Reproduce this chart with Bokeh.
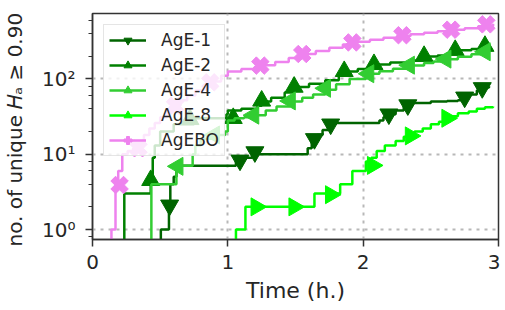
import numpy as np
from bokeh.plotting import figure
from bokeh.models import Range1d, FixedTicker, LogTicker, CustomJSTickFormatter, ColumnDataSource
from bokeh.embed import file_html
from bokeh.resources import INLINE

# ---- data (time in hours, cumulative count) ----
age1_t = [0, 0.505, 0.565, 0.575, 0.60, 0.62, 1.06, 1.12, 1.18, 1.59, 1.62, 1.66, 1.70, 1.74, 1.78, 2.12, 2.15, 2.18, 2.24, 2.30, 2.36, 2.50, 2.62, 2.70, 2.74, 2.78, 2.84, 2.88, 2.93]
age1_n = [0, 1, 2, 4, 5, 7, 8, 9, 10, 12, 15, 18, 21, 24, 26, 28, 31, 34, 38, 43, 48, 50, 51, 52, 56, 62, 70, 77, 80]
age1_mt = [0.57, 1.09, 1.20, 1.64, 1.76, 2.19, 2.33, 2.75, 2.88]
age1_mn = [2.1, 8.3, 10.7, 16, 25, 34, 45, 57, 76]

age2_t = [0, 0.235, 0.43, 0.445, 0.46, 0.50, 0.60, 0.75, 0.99, 1.00, 1.10, 1.22, 1.25, 1.32, 1.42, 1.49, 1.60, 1.72, 1.82, 1.86, 1.96, 2.07, 2.20, 2.35, 2.44, 2.55, 2.62, 2.69, 2.80, 2.88, 2.90, 2.93]
age2_n = [0, 3, 4, 9, 13, 20, 25, 30, 34, 38, 40, 44, 50, 56, 66, 78, 86, 96, 110, 125, 135, 155, 165, 175, 198, 205, 215, 240, 250, 262, 275, 285]
age2_mt = [0.43, 0.72, 1.04, 1.25, 1.49, 1.86, 2.08, 2.45, 2.68, 2.90]
age2_mn = [4.5, 29, 30, 51, 78, 126, 156, 200, 240, 272]

age4_t = [0, 0.435, 0.62, 0.64, 0.74, 0.76, 0.80, 0.90, 0.98, 1.00, 1.05, 1.12, 1.19, 1.28, 1.36, 1.46, 1.55, 1.63, 1.72, 1.80, 1.90, 2.02, 2.12, 2.22, 2.34, 2.45, 2.52, 2.60, 2.70, 2.80, 2.90, 2.93]
age4_n = [0, 4, 6, 7, 10, 13, 16, 18, 20, 28, 30, 31, 33, 38, 43, 50, 56, 62, 72, 85, 100, 117, 126, 136, 150, 162, 170, 182, 196, 212, 230, 240]
age4_mt = [0.63, 0.90, 1.19, 1.46, 1.72, 2.04, 2.34, 2.61, 2.90]
age4_mn = [6.9, 18, 33, 51, 75, 117, 152, 183, 229]

age8_t = [0, 1.06, 1.13, 1.64, 1.83, 1.92, 2.02, 2.06, 2.10, 2.16, 2.24, 2.30, 2.38, 2.44, 2.50, 2.56, 2.64, 2.70, 2.78, 2.84, 2.90, 2.96]
age8_n = [0, 1, 2, 3, 4, 6, 8, 9, 11, 13, 15, 17, 20, 22, 25, 27, 32, 35, 37, 40, 42, 43]
age8_mt = [1.21, 1.49, 1.76, 2.07, 2.35, 2.62]
age8_mn = [2.0, 2.0, 2.9, 7.1, 17.5, 30]

agebo_t = [0, 0.14, 0.17, 0.19, 0.22, 0.26, 0.30, 0.34, 0.38, 0.42, 0.46, 0.50, 0.55, 0.60, 0.65, 0.70, 0.76, 0.82, 0.88, 0.95, 1.00, 1.10, 1.20, 1.26, 1.35, 1.45, 1.55, 1.65, 1.75, 1.85, 1.95, 2.05, 2.15, 2.25, 2.35, 2.45, 2.55, 2.65, 2.75, 2.85, 2.96]
agebo_n = [0, 1, 4, 6, 10, 11, 12, 15, 18, 22, 26, 31, 37, 44, 52, 60, 70, 82, 92, 110, 125, 135, 145, 152, 168, 190, 214, 235, 260, 285, 310, 330, 352, 372, 392, 410, 430, 450, 470, 500, 540]
agebo_mt = [0.20, 0.34, 0.61, 0.87, 1.24, 1.55, 1.92, 2.29, 2.65, 2.91]
agebo_mn = [3.9, 12, 44, 90, 150, 214, 305, 380, 450, 530]

x_ticks = [0, 1, 2, 3]

series = [
    ("AgE-1", age1_t, age1_n, age1_mt, age1_mn, "#006400", "inverted_triangle", 0.0, 18),
    ("AgE-2", age2_t, age2_n, age2_mt, age2_mn, "#008000", "triangle", 0.0, 18),
    ("AgE-4", age4_t, age4_n, age4_mt, age4_mn, "#32CD32", "triangle", np.pi / 2, 18),
    ("AgE-8", age8_t, age8_n, age8_mt, age8_mn, "#00FF00", "triangle", -np.pi / 2, 18),
    ("AgEBO", agebo_t, agebo_n, agebo_mt, agebo_mn, "#EE82EE", "plus", np.pi / 4, 18),
]

FLOOR = 0.1  # zero counts cannot be shown on a log axis

p = figure(width=500, height=305, x_range=Range1d(0, 3), y_range=Range1d(0.737, 738),
           y_axis_type="log", output_backend="svg", toolbar_location=None,
           min_border_left=92, min_border_right=2, min_border_top=13, min_border_bottom=64)

TXT = "#262626"
FONT = "DejaVu Sans"

for name, t, n, mt, mn, col, mk, ang, sz in series:
    ny = [v if v > 0 else FLOOR for v in n]
    src = ColumnDataSource(dict(t=t, n=ny))
    p.step(x="t", y="n", source=src, mode="after", line_color=col, line_width=2.5,
           legend_label=name)
    p.scatter(mt, mn, marker=mk, angle=ang, size=sz, fill_color=col, line_color=col,
              legend_label=name)

# axes
p.xaxis.ticker = FixedTicker(ticks=x_ticks)
p.yaxis.ticker = LogTicker()
p.yaxis.formatter = CustomJSTickFormatter(code="""
const s = {"0":"\u2070","1":"\u00b9","2":"\u00b2","3":"\u00b3","-":"\u207b"};
const e = Math.round(Math.log10(tick));
return "10" + String(e).split("").map(c => s[c]).join("");
""")
for ax in (p.xaxis[0], p.yaxis[0]):
    ax.axis_line_color = "#333333"
    ax.axis_line_width = 1.5
    ax.major_tick_line_color = "#333333"
    ax.major_tick_line_width = 1.5
    ax.major_tick_in = 0
    ax.major_tick_out = 7
    ax.minor_tick_in = 0
    ax.minor_tick_out = 4
    ax.minor_tick_line_color = "#333333"
    ax.minor_tick_line_width = 1
    ax.major_label_text_font = FONT
    ax.major_label_text_font_size = "20px"
    ax.major_label_text_color = TXT
    ax.axis_label_text_font = FONT
    ax.axis_label_text_font_style = "normal"
    ax.axis_label_text_color = TXT

p.xaxis.minor_tick_line_color = None
p.xaxis.axis_label = "Time (h.)"
p.xaxis.axis_label_text_font_size = "22px"
p.xaxis.major_label_standoff = 8
p.xaxis.axis_label_standoff = 6
p.yaxis.axis_label = "no. of  unique \U0001D43B\u2090 \u2265 0.90"
p.yaxis.axis_label_text_font_size = "20px"
p.yaxis.major_label_standoff = 10
p.yaxis.axis_label_standoff = 12

p.outline_line_color = "#333333"
p.outline_line_width = 1.5

for g in (p.xgrid[0], p.ygrid[0]):
    g.grid_line_color = "#b8b8b8"
    g.grid_line_width = 2
    g.grid_line_dash = "3 5"

lg = p.legend[0]
lg.location = "top_left"
lg.margin = 11
lg.padding = 5
lg.spacing = 5
lg.glyph_width = 37
lg.glyph_height = 20
lg.label_height = 20
lg.label_standoff = 15
lg.label_text_font = FONT
lg.label_text_font_size = "17px"
lg.label_text_color = TXT
lg.background_fill_color = "white"
lg.background_fill_alpha = 0.8
lg.border_line_color = "#cccccc"
lg.border_line_width = 1

open("out.html", "w").write(file_html(p, INLINE))
